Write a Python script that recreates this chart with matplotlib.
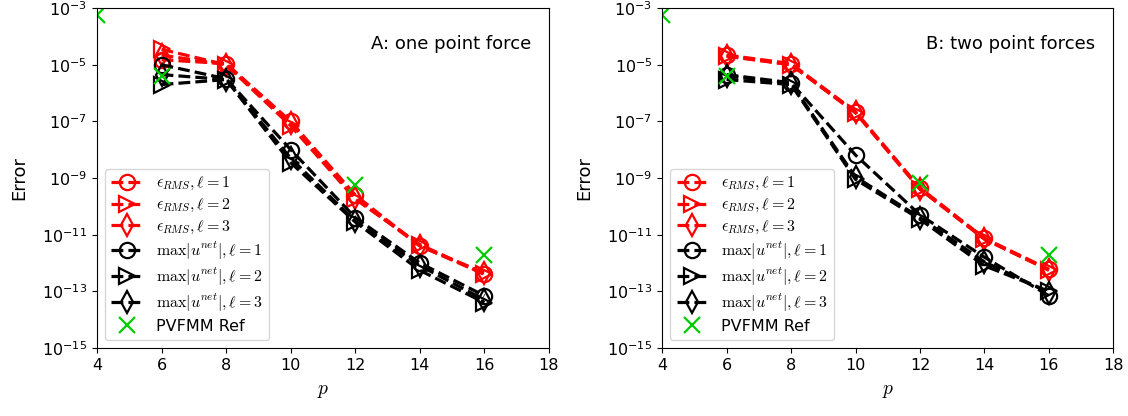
import numpy as np
import matplotlib.pyplot as plt
from matplotlib.ticker import NullLocator

plt.rcParams['mathtext.fontset'] = 'cm'
plt.rcParams['font.size'] = 12

p = [6, 8, 10, 12, 14, 16]

# panel A: one point force
rms_a = [
    [1.5e-5, 1.1e-5, 1.0e-7, 2.5e-10, 4.0e-12, 4.0e-13],
    [3.5e-5, 1.0e-5, 7.0e-8, 1.8e-10, 4.5e-12, 4.0e-13],
    [2.2e-5, 1.0e-5, 9.0e-8, 2.0e-10, 4.0e-12, 4.5e-13],
]
max_a = [
    [1.0e-5, 3.2e-6, 1.0e-8, 4.0e-11, 1.0e-12, 7.0e-14],
    [2.0e-6, 3.0e-6, 3.5e-9, 2.8e-11, 5.5e-13, 4.0e-14],
    [4.5e-6, 3.0e-6, 5.0e-9, 3.0e-11, 8.0e-13, 5.0e-14],
]

# panel B: two point forces
rms_b = [
    [2.2e-5, 1.1e-5, 2.2e-7, 4.5e-10, 7.5e-12, 6.0e-13],
    [2.0e-5, 1.0e-5, 2.0e-7, 4.0e-10, 7.0e-12, 5.5e-13],
    [2.1e-5, 1.0e-5, 2.1e-7, 4.2e-10, 7.0e-12, 5.8e-13],
]
max_b = [
    [4.5e-6, 2.3e-6, 6.5e-9, 5.0e-11, 1.6e-12, 7.0e-14],
    [3.0e-6, 2.0e-6, 9.0e-10, 3.5e-11, 8.0e-13, 1.0e-13],
    [4.0e-6, 2.2e-6, 1.1e-9, 4.0e-11, 1.1e-12, 9.0e-14],
]

# PVFMM reference
p_ref = [4, 6, 12, 16]
ref_a = [5.6e-4, 4.0e-6, 5.5e-10, 1.9e-12]
ref_b = [5.6e-4, 4.0e-6, 6.5e-10, 1.9e-12]

titles = ['A: one point force', 'B: two point forces']
markers = ['o', '>', 'd']

fig = plt.figure(figsize=(11.28, 4.16), dpi=100)
ax1 = fig.add_axes([0.086, 0.1635, 0.4007, 0.817])
ax2 = fig.add_axes([0.587, 0.1635, 0.4, 0.817])

for ax, rms, mx, ref, title in [(ax1, rms_a, max_a, ref_a, titles[0]),
                                (ax2, rms_b, max_b, ref_b, titles[1])]:
    for l in range(3):
        ax.plot(p, rms[l], color='red', linestyle='--', linewidth=2.3,
                marker=markers[l], markersize=11, markerfacecolor='none',
                markeredgewidth=1.6, label=r'$\epsilon_{RMS}, \ell=%d$' % (l + 1))
    for l in range(3):
        ax.plot(p, mx[l], color='black', linestyle='--', linewidth=2.3,
                marker=markers[l], markersize=11, markerfacecolor='none',
                markeredgewidth=1.6, label=r'$\max|u^{net}|, \ell=%d$' % (l + 1))
    ax.plot(p_ref, ref, linestyle='none', marker='x', color='#00cc00',
            markersize=11, markeredgewidth=1.6, label='PVFMM Ref', clip_on=True)
    ax.set_yscale('log')
    ax.set_xlim(4, 18)
    ax.set_ylim(1e-15, 1e-3)
    ax.set_xticks(np.arange(4, 19, 2))
    ax.set_yticks([10.0 ** e for e in range(-15, -2, 2)])
    ax.yaxis.set_minor_locator(NullLocator())
    ax.tick_params(labelsize=11.5)
    ax.set_xlabel('$p$', fontsize=14, labelpad=6)
    ax.text(0.96, 0.895, title, transform=ax.transAxes, ha='right', va='center',
            fontsize=13)
    ax.legend(loc='lower left', fontsize=11.5, handlelength=2.0,
              labelspacing=0.3, borderpad=0.4)

ax1.set_ylabel('Error', fontsize=13, labelpad=10)
ax2.set_ylabel('Error', fontsize=13, labelpad=10)

plt.savefig('out.png')
